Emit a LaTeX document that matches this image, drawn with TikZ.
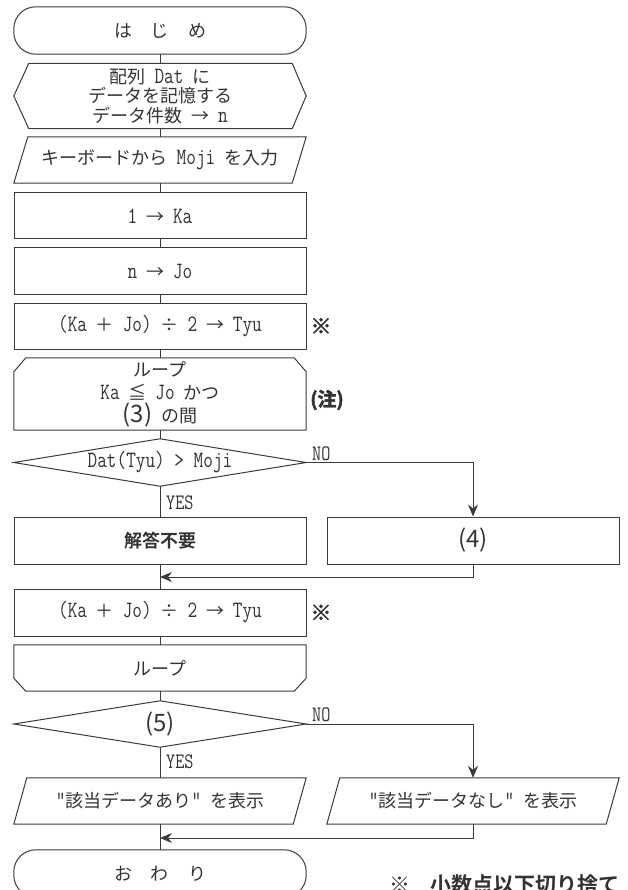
\documentclass[tikz,border=0pt]{standalone}
\usepackage{fontspec}
\setmainfont{Noto Sans CJK JP}[BoldFont={* Bold},WordSpace=2.2]
\newfontfamily\latf{Latin Modern Mono}[FakeStretch=0.8,Scale=1.3]
\newfontfamily\heavyf{Noto Sans CJK JP Bold}[FakeBold=2.5]
\newcommand\ltn[1]{{\latf #1}}
\usetikzlibrary{arrows.meta,calc}
\definecolor{ln}{HTML}{3A3A3A}
\definecolor{tx}{HTML}{333333}
\begin{document}
\begin{tikzpicture}[x=1pt,y=-1pt,
  blk/.style={inner sep=0pt, minimum width=292pt, minimum height=46pt, align=center, text=tx, font=\fontsize{18}{19}\selectfont},
  outl/.style={draw=ln, line width=1pt},
  conn/.style={draw=ln, line width=1pt},
  arr/.style={conn, -{Stealth[length=12pt,width=10pt,inset=4pt]}},
  lbl/.style={inner sep=0pt, text=tx, font=\latf\fontsize{17}{17}\selectfont},
  notemk/.style={inner sep=0pt, text=tx, font=\heavyf\fontsize{21}{21}\selectfont},
  bignum/.style={font=\fontsize{24}{25}\selectfont}]
\useasboundingbox (0,0) rectangle (627,890);
% start
\node[blk, minimum height=47pt] (start) at (160,30.5) {は\hspace{19pt}じ\hspace{19pt}め};
\draw[outl, rounded corners=22pt] (start.north west) rectangle (start.south east);
% preparation
\node[blk, minimum height=65pt, font=\fontsize{18}{19.5}\selectfont] (prep) at (160,96) {配列 \ltn{Dat} に\\データを記憶する\\データ件数 → \ltn{n}};
\draw[outl] ([xshift=15pt]prep.north west) -- ([xshift=-14pt]prep.north east) -- (prep.east) -- ([xshift=-14pt]prep.south east) -- ([xshift=15pt]prep.south west) -- (prep.west) -- cycle;
% input
\node[blk] (inp) at (160,160) {キーボードから \ltn{Moji} を入力};
\draw[outl] ([xshift=14pt]inp.north west) -- (inp.north east) -- ([xshift=-14pt]inp.south east) -- (inp.south west) -- cycle;
% processes
\node[blk, outl] (ka) at (160,216) {\ltn{1} → \ltn{Ka}};
\node[blk, outl] (jo) at (160,271) {\ltn{n} → \ltn{Jo}};
\node[blk, outl] (tyu1) at (160,326) {\ltn{(Ka} ＋ \ltn{Jo)} ÷ \ltn{2} → \ltn{Tyu}};
% loop start
\node[blk, minimum height=72pt, font=\fontsize{18}{23}\selectfont] (loopa) at (160,394) {ループ\\\ltn{Ka} ≦ \ltn{Jo} かつ\\{\fontsize{24}{24}\selectfont (3)} の間};
\draw[outl] ([xshift=12pt]loopa.north west) -- ([xshift=-12pt]loopa.north east) -- ([yshift=-14pt]loopa.north east) -- (loopa.south east) -- (loopa.south west) -- ([yshift=-14pt]loopa.north west) -- cycle;
% decision 1
\node[blk, minimum height=47pt] (dec1) at (160,462.5) {\ltn{Dat(Tyu) > Moji}};
\draw[outl] (dec1.west) -- (dec1.north) -- (dec1.east) -- (dec1.south) -- cycle;
\node[blk, outl, minimum height=47pt, font=\bfseries\fontsize{18}{19}\selectfont] (kaito) at (160,540.5) {解答不要};
\node[blk, outl, minimum height=47pt, bignum] (box4) at (473,540.5) {(4)};
% second half
\node[blk, outl, minimum height=47pt] (tyu2) at (160,612.5) {\ltn{(Ka} ＋ \ltn{Jo)} ÷ \ltn{2} → \ltn{Tyu}};
\node[blk] (loopb) at (160,668) {ループ};
\draw[outl] (loopb.north west) -- (loopb.north east) -- ([yshift=13pt]loopb.south east) -- ([xshift=-12pt]loopb.south east) -- ([xshift=12pt]loopb.south west) -- ([yshift=13pt]loopb.south west) -- cycle;
\node[blk, bignum] (dec2) at (160,724) {(5)};
\draw[outl] (dec2.west) -- (dec2.north) -- (dec2.east) -- (dec2.south) -- cycle;
\node[blk] (out1) at (160,801) {\ltn{"}該当データあり\ltn{"} を表示};
\draw[outl] ([xshift=13pt]out1.north west) -- (out1.north east) -- ([xshift=-13pt]out1.south east) -- (out1.south west) -- cycle;
\node[blk] (out2) at (473,801) {\ltn{"}該当データなし\ltn{"} を表示};
\draw[outl] ([xshift=13pt]out2.north west) -- (out2.north east) -- ([xshift=-13pt]out2.south east) -- (out2.south west) -- cycle;
\node[blk, minimum height=47pt] (end) at (160,873.5) {お\hspace{19pt}わ\hspace{19pt}り};
\draw[outl, rounded corners=22pt] (end.north west) rectangle (end.south east);
% connectors
\path[conn] (start) edge (prep) (prep) edge (inp) (inp) edge (ka) (ka) edge (jo) (jo) edge (tyu1) (tyu1) edge (loopa) (loopa) edge (dec1) (dec1) edge (kaito) (kaito) edge (tyu2) (tyu2) edge (loopb) (loopb) edge (dec2) (dec2) edge (out1) (out1) edge (end);
\coordinate (m1) at (160,577);
\coordinate (m2) at (160,838);
\draw[arr] (dec1.east) -| (box4.north);
\draw[arr] (box4.south) |- (m1);
\draw[arr] (dec2.east) -| (out2.north);
\draw[arr] (out2.south) |- (m2);
% labels
\node[lbl, anchor=south west] (no1) at (312,461) {NO};
\node[lbl, anchor=west] (yes1) at (166,503) {YES};
\node[lbl, anchor=south west] (no2) at (312,722) {NO};
\node[lbl, anchor=west] (yes2) at (166,762) {YES};
\node[notemk] (r1) at (321,326) {※};
\node[notemk] (r2) at (321,612.5) {※};
\node[inner sep=0pt, text=tx, font=\heavyf\fontsize{19}{19}\selectfont] (chu) at (327,400) {(注)};
\node[inner sep=0pt, anchor=west, text=tx, font=\bfseries\fontsize{21}{21}\selectfont] (fn) at (389,885) {※\hspace{20pt}小数点以下切り捨て};
\end{tikzpicture}
\end{document}
